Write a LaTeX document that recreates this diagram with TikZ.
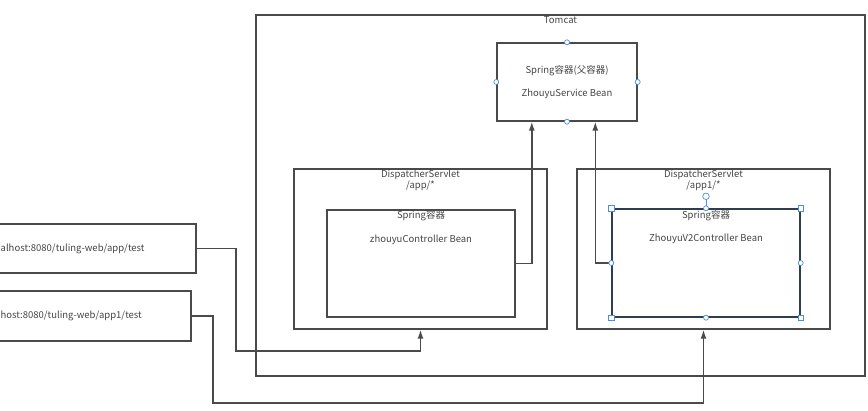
\documentclass[tikz,border=0pt]{standalone}
\usepackage{fontspec}
\setmainfont{Noto Sans CJK SC}
\usetikzlibrary{arrows.meta}
\definecolor{ln}{HTML}{4A4A4A}
\definecolor{txt}{HTML}{444444}
\definecolor{sel}{HTML}{2F3E4E}
\definecolor{hdl}{HTML}{4A90E2}
\begin{document}
\begin{tikzpicture}[x=1pt,y=-1pt,
  box/.style={draw=ln,line width=1.4pt,rectangle,inner sep=0pt},
  lbl/.style={text=txt,font=\fontsize{9.5}{11}\selectfont,inner sep=0pt},
  arr/.style={draw=ln,line width=1.4pt,-{Latex[length=9pt,width=6pt]}},
  hc/.style={circle,draw=hdl,fill=white,line width=0.7pt,minimum size=5pt,inner sep=0pt},
  hs/.style={rectangle,draw=hdl,fill=white,line width=0.7pt,minimum size=5.5pt,inner sep=0pt}]
\useasboundingbox (0,0) rectangle (868,411);
\begin{scope}
\clip (0,0) rectangle (868,411);
% boxes
\node[box,minimum width=609pt,minimum height=361pt] (tomcat) at (560.5,195.5) {};
\node[box,minimum width=140pt,minimum height=78pt] (parent) at (567,82) {};
\node[box,minimum width=253pt,minimum height=160pt] (ds1) at (420.5,249) {};
\node[box,minimum width=188pt,minimum height=107pt] (in1) at (421,263.5) {};
\node[box,minimum width=253pt,minimum height=160pt] (ds2) at (703.5,249) {};
\node[box,draw=sel,minimum width=188pt,minimum height=108pt] (in2) at (706,263) {};
\node[box,minimum width=216pt,minimum height=49pt] (url1) at (88,248.5) {};
\node[box,minimum width=211pt,minimum height=50pt] (url2) at (85.5,316) {};
% texts
\node[lbl] (t0) at (560.5,20) {Tomcat};
\node[lbl] (t1) at (567,71) {Spring容器(父容器)};
\node[lbl] (t2) at (567,94) {ZhouyuService Bean};
\node[lbl,align=center] (t3) at (420.5,180.5) {DispatcherServlet\\/app/*};
\node[lbl] (t4) at (421,215.5) {Spring容器};
\node[lbl] (t5) at (421,240) {zhouyuController Bean};
\node[lbl,align=center] (t6) at (703.5,180.5) {DispatcherServlet\\/app1/*};
\node[lbl] (t7) at (706,215.5) {Spring容器};
\node[lbl] (t8) at (706,239) {ZhouyuV2Controller Bean};
\node[lbl,anchor=west] (t9) at (0.5,249) {alhost:8080/tuling-web/app/test};
\node[lbl,anchor=west] (t10) at (0.5,316) {host:8080/tuling-web/app1/test};
% connectors
\coordinate (b1) at (236,351);
\coordinate (b2) at (213,403);
\draw[arr] (url1.east) -| (b1) -| (ds1.south);
\draw[arr] (url2.east) -| (b2) -| (ds2.south);
\draw[arr] (in1.east) -| ([xshift=35.5pt]parent.south west);
\draw[arr] (in2.west) -| ([xshift=99pt]parent.south west);
% selection handles
\draw[hdl,line width=0.7pt] (in2.north) -- ++(0,-10);
\node[hc,minimum size=6.5pt] (rot) at ([yshift=12pt]in2.north) {};
\foreach \a in {north west,north east,south west,south east}
  \node[hs] at (in2.\a) {};
\foreach \a in {north,south,east,west}
  \node[hc] at (in2.\a) {};
\foreach \a in {north,south,east,west}
  \node[hc] at (parent.\a) {};
\end{scope}
\end{tikzpicture}
\end{document}
